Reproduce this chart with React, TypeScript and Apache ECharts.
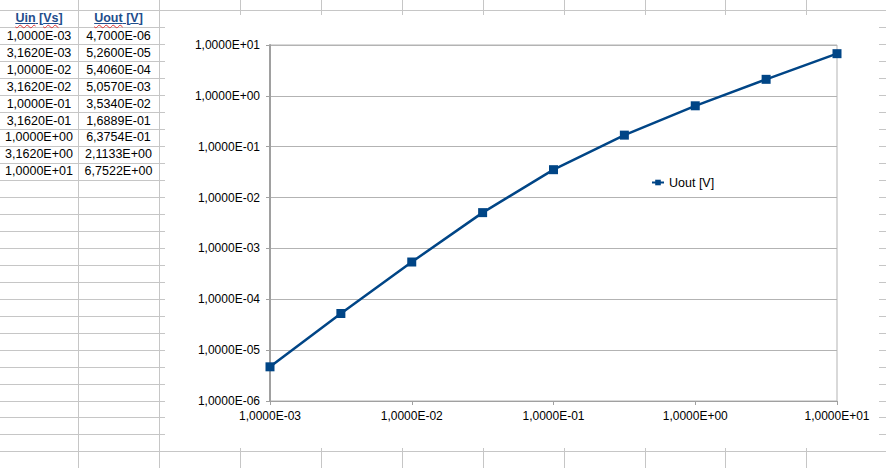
import React, { useEffect, useRef } from "react";
import * as echarts from "echarts";

const uinValues = [1e-3, 3.162e-3, 1e-2, 3.162e-2, 1e-1, 3.162e-1, 1, 3.162, 10];
const uoutValues = [4.7e-6, 5.26e-5, 5.406e-4, 5.057e-3, 3.534e-2, 1.6889e-1, 6.3754e-1, 2.1133, 6.7522];
const headers = ["Uin [Vs]", "Uout [V]"];
const seriesName = "Uout [V]";
const xRange = [1e-3, 10];
const yRange = [1e-6, 10];

function fmtSci(v: number): string {
  if (!(v > 0)) return String(v);
  let e = Math.floor(Math.log10(v) + 1e-9);
  let m = v / Math.pow(10, e);
  if (Number(m.toFixed(4)) >= 10) {
    e += 1;
    m = v / Math.pow(10, e);
  }
  const ms = m.toFixed(4).replace(".", ",");
  const sign = e < 0 ? "-" : "+";
  const es = String(Math.abs(e)).padStart(2, "0");
  return `${ms}E${sign}${es}`;
}

const FONT = "'Liberation Sans', Arial, sans-serif";
const GRID_COLOR = "#c6c6c6";
const ROW_TOP = 10.7;
const ROW_H = 16.97;
const COL0 = 78.7;
const COL_W = 80.9;

const CH = { left: 165, top: 15, width: 714, height: 433 };

function Header({ text }: { text: string }) {
  const wavy: React.CSSProperties = {
    textDecorationLine: "underline",
    textDecorationStyle: "wavy",
    textDecorationColor: "#e03030",
    textUnderlineOffset: "2px",
    textDecorationThickness: "1px",
  };
  const m = text.match(/^(\S+) \[(.+)\]$/);
  if (!m) return <span>{text}</span>;
  const spellFlag = m[2] === "Vs";
  return (
    <span style={{ textDecoration: "underline", textDecorationColor: "#1f4e8c" }}>
      <span style={wavy}>{m[1]}</span> [
      {spellFlag ? <span style={wavy}>{m[2]}</span> : m[2]}]
    </span>
  );
}

export default function App() {
  const ref = useRef<HTMLDivElement>(null);

  useEffect(() => {
    if (!ref.current) return;
    const chart = echarts.init(ref.current, null, { renderer: "svg" });
    const axisLabel = {
      fontFamily: FONT,
      fontSize: 12,
      color: "#000",
      formatter: (v: number) => fmtSci(v),
    };
    chart.setOption({
      animation: false,
      backgroundColor: "#ffffff",
      grid: {
        left: 105,
        top: 30,
        width: 567,
        height: 356,
        show: true,
        borderColor: "#b3b3b3",
        borderWidth: 1,
        containLabel: false,
      },
      legend: {
        data: [seriesName],
        left: 486,
        top: 161,
        padding: 0,
        itemWidth: 12,
        itemHeight: 7,
        textStyle: { fontFamily: FONT, fontSize: 12.5, color: "#000" },
      },
      xAxis: {
        type: "log",
        logBase: 10,
        min: xRange[0],
        max: xRange[1],
        splitNumber: 4,
        axisLine: { show: true, lineStyle: { color: "#a0a0a0", width: 1 } },
        axisTick: { show: true, length: 4, lineStyle: { color: "#a0a0a0" } },
        splitLine: { show: false },
        minorTick: { show: false },
        axisLabel: { ...axisLabel, margin: 9 },
      },
      yAxis: {
        type: "log",
        logBase: 10,
        min: yRange[0],
        max: yRange[1],
        splitNumber: 7,
        axisLine: { show: true, lineStyle: { color: "#a0a0a0", width: 2 } },
        axisTick: { show: true, length: 4, lineStyle: { color: "#a0a0a0" } },
        splitLine: { show: true, lineStyle: { color: "#b3b3b3", width: 1 } },
        axisLabel: { ...axisLabel, margin: 10 },
      },
      series: [
        {
          name: seriesName,
          type: "line",
          data: uinValues.map((x, i) => [x, uoutValues[i]]),
          symbol: "rect",
          symbolSize: 9,
          showSymbol: true,
          lineStyle: { color: "#004586", width: 2.5 },
          itemStyle: { color: "#004586" },
        },
      ],
    });
    return () => chart.dispose();
  }, []);

  const rows: number[] = [];
  for (let k = 0; k <= 27; k++) rows.push(Math.floor(ROW_TOP + k * ROW_H));
  const cols: number[] = [];
  for (let k = 0; k <= 10; k++) cols.push(Math.floor(COL0 + k * COL_W));

  const cellStyle = (colIdx: number, rowIdx: number): React.CSSProperties => {
    const x0 = colIdx === 0 ? 0 : cols[colIdx - 1];
    const x1 = cols[colIdx];
    const y0 = ROW_TOP + rowIdx * ROW_H;
    return {
      position: "absolute",
      left: x0,
      width: x1 - x0,
      top: y0,
      height: ROW_H,
      lineHeight: `${ROW_H}px`,
      textAlign: "center",
      fontFamily: FONT,
      fontSize: 12.5,
      color: "#000",
      whiteSpace: "nowrap",
    };
  };

  return (
    <div
      style={{
        position: "fixed",
        left: 0,
        top: 0,
        width: 886,
        height: 468,
        overflow: "hidden",
        background: "#ffffff",
        fontFamily: FONT,
      }}
    >
      {rows.map((y, i) => (
        <div
          key={"r" + i}
          style={{ position: "absolute", left: 0, top: y, width: 886, height: 1, background: GRID_COLOR }}
        />
      ))}
      {cols.map((x, i) => (
        <div
          key={"c" + i}
          style={{ position: "absolute", left: x, top: 0, width: 1, height: 468, background: GRID_COLOR }}
        />
      ))}
      {headers.map((h, ci) => (
        <div key={"h" + ci} style={{ ...cellStyle(ci, 0), fontWeight: "bold", color: "#1f4e8c", top: ROW_TOP - 1 }}>
          <Header text={h} />
        </div>
      ))}
      {uinValues.map((v, i) => (
        <div key={"a" + i} style={cellStyle(0, i + 1)}>
          {fmtSci(v)}
        </div>
      ))}
      {uoutValues.map((v, i) => (
        <div key={"b" + i} style={cellStyle(1, i + 1)}>
          {fmtSci(v)}
        </div>
      ))}
      <div
        ref={ref}
        style={{
          position: "absolute",
          left: CH.left,
          top: CH.top,
          width: CH.width,
          height: CH.height,
          background: "#ffffff",
        }}
      />
    </div>
  );
}
